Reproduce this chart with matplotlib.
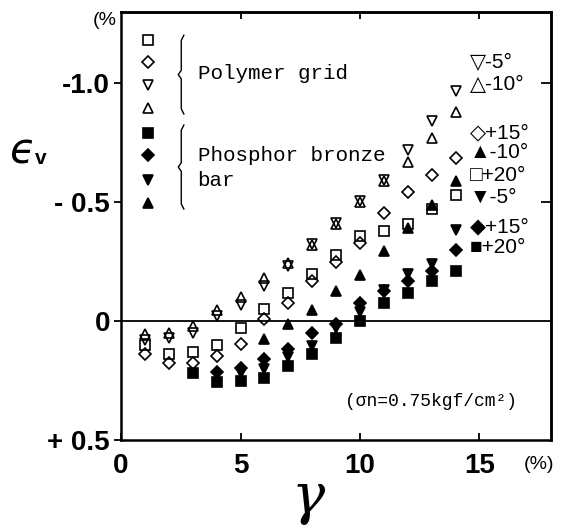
import numpy as np
import matplotlib.pyplot as plt

# shear strain gamma (%) at which the points were read
gamma = np.arange(1, 15)

# Polymer grid (open symbols), volumetric strain eps_v (%)
pg_sq_p20 = [0.10, 0.14, 0.13, 0.10, 0.03, -0.05, -0.12, -0.20, -0.28, -0.36, -0.38, -0.41, -0.47, -0.53]
pg_di_p15 = [0.14, 0.175, 0.175, 0.145, 0.095, -0.01, -0.075, -0.17, -0.25, -0.33, -0.455, -0.545, -0.615, -0.685]
pg_dn_m5 = [0.08, 0.07, 0.05, -0.02, -0.07, -0.15, -0.23, -0.325, -0.415, -0.505, -0.595, -0.72, -0.84, -0.97]
pg_up_m10 = [0.055, 0.05, 0.02, -0.045, -0.10, -0.18, -0.245, -0.32, -0.41, -0.50, -0.59, -0.67, -0.77, -0.88]

# Phosphor bronze bar (filled symbols)
pb_sq_g = gamma[2:]
pb_sq_p20 = [0.22, 0.255, 0.25, 0.24, 0.19, 0.14, 0.07, 0.0, -0.075, -0.12, -0.17, -0.21]
pb_di_g = gamma[3:]
pb_di_p15 = [0.215, 0.195, 0.16, 0.115, 0.05, 0.01, -0.075, -0.125, -0.17, -0.21, -0.30]
pb_dn_g = gamma[4:]
pb_dn_m5 = [0.22, 0.20, 0.15, 0.105, 0.03, -0.04, -0.13, -0.20, -0.24, -0.385]
pb_up_g = gamma[5:]
pb_up_m10 = [0.075, 0.01, -0.046, -0.125, -0.195, -0.295, -0.39, -0.49, -0.59]

xticks = [0, 5, 10, 15]
yticks = [-1.0, -0.5, 0, 0.5]
ytick_labels = ['-1.0', '- 0.5', '0', '+ 0.5']

series_labels = ['\u25bd-5\u00b0', '\u25b3-10\u00b0', '\u25c7+15\u00b0', '\u25b2-10\u00b0',
                 '\u25a1+20\u00b0', '\u25bc-5\u00b0', '\u25c6+15\u00b0', '\u25a0+20\u00b0']

#%% figure
fig = plt.figure(figsize=(5.63, 5.27), dpi=100)
ax = fig.add_axes([0.215, 0.165, 0.764, 0.812])

mk = dict(color='k', ls='none', mew=1.2, clip_on=False)
ax.plot(gamma, pg_sq_p20, 's', ms=7.2, mfc='none', **mk)
ax.plot(gamma, pg_di_p15, 'D', ms=6.2, mfc='none', **mk)
ax.plot(gamma, pg_dn_m5, 'v', ms=7.3, mfc='none', **mk)
ax.plot(gamma, pg_up_m10, '^', ms=7.3, mfc='none', **mk)
ax.plot(pb_sq_g, pb_sq_p20, 's', ms=7.2, mfc='k', **mk)
ax.plot(pb_di_g, pb_di_p15, 'D', ms=6.2, mfc='k', **mk)
ax.plot(pb_dn_g, pb_dn_m5, 'v', ms=7.3, mfc='k', **mk)
ax.plot(pb_up_g, pb_up_m10, '^', ms=7.3, mfc='k', **mk)

ax.axhline(0, color='k', lw=1.3)

ax.set_xlim(0, 18)
ax.set_ylim(0.49, -1.30)
for s in ax.spines.values():
    s.set_linewidth(1.8)

tick_font = dict(family=['Liberation Sans', 'DejaVu Sans'], weight='bold', size=20)
ax.set_xticks(xticks)
ax.set_xticklabels([str(t) for t in xticks], **tick_font)
ax.set_yticks(yticks)
ax.set_yticklabels(ytick_labels, **tick_font)
ax.tick_params(axis='x', direction='in', length=5, width=1.3, pad=9)
ax.tick_params(axis='y', direction='out', length=5, width=1.3, pad=3)

# inward ticks on the top and right frame
top = ax.secondary_xaxis('top')
top.set_xticks([5, 10, 15])
top.tick_params(direction='in', length=5, width=1.3, labeltop=False)
right = ax.secondary_yaxis('right')
right.set_yticks([-1.0, -0.5])
right.tick_params(direction='in', length=7, width=1.3, labelright=False)
for sa in (top, right):
    for s in sa.spines.values():
        s.set_linewidth(1.8)

# symbol key with braces
key_x = 0.063
key_y = [0.935, 0.883, 0.829, 0.776, 0.717, 0.666, 0.607, 0.554]
key_m = ['s', 'D', 'v', '^', 's', 'D', 'v', '^']
key_ms = [7.2, 6.2, 7.5, 7.5, 7.2, 6.2, 7.5, 7.5]
for i in range(8):
    ax.plot(key_x, key_y[i], key_m[i], ms=key_ms[i], mfc='none' if i < 4 else 'k',
            transform=ax.transAxes, **mk)

def brace(x, y0, y1):
    ym = (y0 + y1) / 2
    ax.plot([x + 0.006, x, x, x - 0.007, x, x, x + 0.006],
            [y0, y0 - 0.012, ym + 0.01, ym, ym - 0.01, y1 + 0.012, y1],
            color='k', lw=1.0, transform=ax.transAxes)

brace(0.14, 0.946, 0.762)
brace(0.14, 0.736, 0.540)

mono = ['Liberation Mono', 'DejaVu Sans Mono']
ax.text(0.178, 0.857, 'Polymer grid', family=mono, size=15, va='center', transform=ax.transAxes)
ax.text(0.178, 0.666, 'Phosphor bronze', family=mono, size=15, va='center', transform=ax.transAxes)
ax.text(0.178, 0.607, 'bar', family=mono, size=15, va='center', transform=ax.transAxes)

# labels of the series on the right
lab_y = [0.885, 0.832, 0.717, 0.671, 0.619, 0.568, 0.498, 0.451]
for lab, yy in zip(series_labels, lab_y):
    ax.text(0.81, yy, lab, family=['Liberation Sans', 'DejaVu Sans'], size=15,
            va='center', transform=ax.transAxes)

ax.text(0.52, 0.089, '(\u03c3n=0.75kgf/cm\u00b2)', family=mono, size=13,
        va='center', transform=ax.transAxes)

# axis titles
fig.text(0.018, 0.712, '\u03f5', family='DejaVu Sans', style='italic', size=30, va='center')
fig.text(0.062, 0.700, 'v', family=['Liberation Sans', 'DejaVu Sans'], weight='bold', size=15, va='center')
fig.text(0.548, 0.055, '\u03b3', family='DejaVu Serif', style='italic', size=40, ha='center', va='center')
fig.text(0.958, 0.118, '(%)', family=['Liberation Sans', 'DejaVu Sans'], size=14, ha='center', va='center')
fig.text(0.207, 0.962, '(%', family=['Liberation Sans', 'DejaVu Sans'], size=14, ha='right', va='center')

fig.savefig('out.png', dpi=100)
